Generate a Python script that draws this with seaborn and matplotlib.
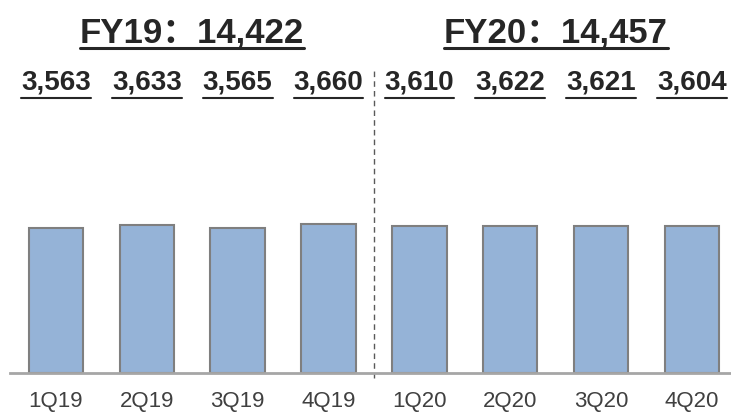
import matplotlib
matplotlib.use('Agg')
import matplotlib.pyplot as plt
import seaborn as sns
import pandas as pd
from matplotlib.transforms import blended_transform_factory
from matplotlib.lines import Line2D

quarters = ['1Q19', '2Q19', '3Q19', '4Q19', '1Q20', '2Q20', '3Q20', '4Q20']
values = [3563, 3633, 3565, 3660, 3610, 3622, 3621, 3604]
value_labels = ['3,563', '3,633', '3,565', '3,660', '3,610', '3,622', '3,621', '3,604']
fy_titles = ['FY19：14,422', 'FY20：14,457']
fy_centers = [1.5, 5.5]

sns.set_theme(style='white')
plt.rcParams['font.family'] = ['Liberation Sans', 'Noto Sans CJK SC', 'DejaVu Sans']

W, H = 731, 412
fig = plt.figure(figsize=(W / 100, H / 100), dpi=100)
ax = fig.add_axes([10 / W, 39 / H, 721 / W, 373 / H])

df = pd.DataFrame({'q': quarters, 'v': values})
sns.barplot(data=df, x='q', y='v', ax=ax, color='#95B3D7', saturation=1,
            width=0.6, edgecolor='#7F7F7F', linewidth=1.5)
ax.set_xlim(-0.506, 7.43)
ax.set_ylim(0, 9176)
ax.set_xlabel('')
ax.set_ylabel('')
ax.set_yticks([])
for s in ['left', 'top', 'right']:
    ax.spines[s].set_visible(False)
ax.spines['bottom'].set_color('#A6A6A6')
ax.spines['bottom'].set_linewidth(2)
ax.tick_params(axis='x', length=0, pad=13, labelsize=16, labelcolor='#404040')

ax.axvline(3.5, ymin=-0.013, ymax=0.812, color='#595959', linewidth=1,
           linestyle=(0, (4, 3)), clip_on=False)

tr = blended_transform_factory(ax.transData, ax.transAxes)
num_texts = []
for i, lab in enumerate(value_labels):
    t = ax.text(i, (373 - 89) / 373, lab, transform=tr, ha='center', va='baseline',
                fontsize=20, fontweight='bold', color='#262626')
    num_texts.append(t)
title_texts = []
for c, lab in zip(fy_centers, fy_titles):
    t = ax.text(c, (373 - 43) / 373, lab, transform=tr, ha='center', va='baseline',
                fontsize=25, fontweight='bold', color='#262626')
    title_texts.append(t)

fig.canvas.draw()
r = fig.canvas.get_renderer()
inv = fig.transFigure.inverted()

def underline(t, ypix, lw):
    bb = t.get_window_extent(renderer=r)
    (x0, y0) = inv.transform((bb.x0, H - ypix))
    (x1, _) = inv.transform((bb.x1, H - ypix))
    fig.add_artist(Line2D([x0, x1], [y0, y0], transform=fig.transFigure,
                          color='#262626', linewidth=lw))

for t in num_texts:
    underline(t, 98, 1.5)
for t in title_texts:
    underline(t, 47.5, 2.2)

fig.savefig('out.png', dpi=100)
